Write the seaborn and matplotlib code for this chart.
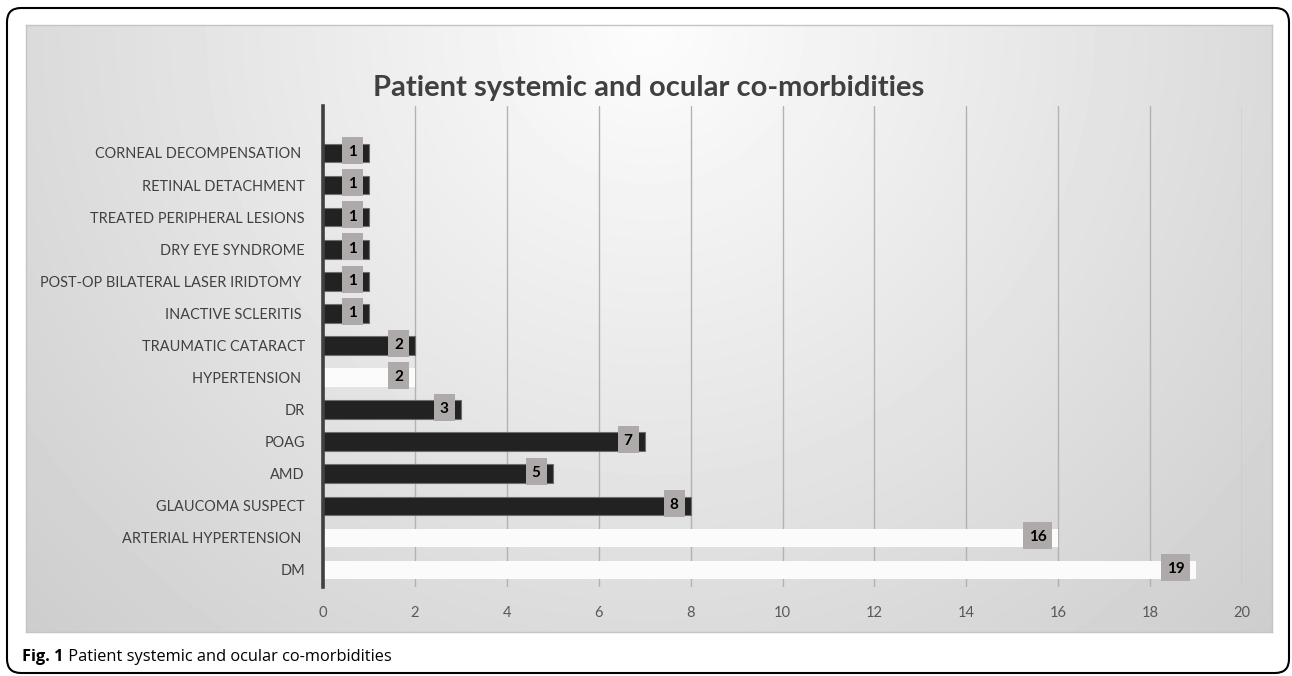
import numpy as np
import pandas as pd
import matplotlib
matplotlib.use("Agg")
import matplotlib.pyplot as plt
import seaborn as sns
from matplotlib.patches import FancyBboxPatch, Rectangle

# ---- data (top to bottom as displayed) ----
categories = [
    "CORNEAL DECOMPENSATION ",
    "RETINAL DETACHMENT",
    "TREATED PERIPHERAL LESIONS",
    "DRY EYE SYNDROME",
    "POST-OP BILATERAL LASER IRIDTOMY ",
    "INACTIVE SCLERITIS ",
    "TRAUMATIC CATARACT",
    "HYPERTENSION ",
    "DR",
    "POAG",
    "AMD",
    "GLAUCOMA SUSPECT",
    "ARTERIAL HYPERTENSION ",
    "DM",
]
values = [1, 1, 1, 1, 1, 1, 2, 2, 3, 7, 5, 8, 16, 19]
group = ["ocular"] * 7 + ["systemic"] + ["ocular"] * 4 + ["systemic"] * 2
x_ticks = [0, 2, 4, 6, 8, 10, 12, 14, 16, 18, 20]
title = "Patient systemic and ocular co-morbidities"
caption_bold = "Fig. 1"
caption_text = " Patient systemic and ocular co-morbidities"

df = pd.DataFrame({"category": categories, "value": values, "group": group})

sns.set_style("white")
FONT = ["Lato", "DejaVu Sans"]
plt.rcParams["font.family"] = FONT

W, H = 1292, 676
fig = plt.figure(figsize=(W / 100, H / 100), dpi=100, facecolor="white")

# ---- gradient background panel ----
bx0, by0, bx1, by1 = 26, 25, 1272, 632  # image px
bg = fig.add_axes([bx0 / W, (H - by1) / H, (bx1 - bx0) / W, (by1 - by0) / H])
gx = np.arange(bx0, bx1)
gy = np.arange(by0, by1)
GX, GY = np.meshgrid(gx, gy)
dist = np.sqrt((GX - 650) ** 2 + (GY - 30) ** 2)
val = np.clip(0.99 - 0.000215 * dist, 0, 1)
bg.imshow(val, cmap="gray", vmin=0, vmax=1, aspect="auto", interpolation="bilinear")
bg.set_xticks([])
bg.set_yticks([])
for s in bg.spines.values():
    s.set_color("#c4c4c4")
    s.set_linewidth(1.0)
bg.set_zorder(0)

# ---- main axes ----
ax_l, ax_r, ax_t, ax_b = 323, 1242, 106, 587
ax = fig.add_axes([ax_l / W, (H - ax_b) / H, (ax_r - ax_l) / W, (ax_b - ax_t) / H])
ax.set_zorder(1)
ax.patch.set_alpha(0)

palette = {"ocular": "#222222", "systemic": "#fbfbfb"}
sns.barplot(data=df, y="category", x="value", hue="group", palette=palette,
            dodge=False, legend=False, width=0.58, ax=ax, zorder=3,
            order=categories, orient="h")
for bar in ax.patches:
    fc = bar.get_facecolor()
    if fc[0] < 0.5:
        bar.set_edgecolor("#6e6e6e")
        bar.set_linewidth(0.8)
    else:
        bar.set_edgecolor("none")

ax.set_xlim(0, 20)
ax.set_ylim(13.53, -1.465)
ax.set_xticks(x_ticks)
ax.set_xticklabels([str(t) for t in x_ticks])
ax.set_xlabel("")
ax.set_ylabel("")
ax.grid(axis="x", color="#b2b2b2", linewidth=1.0, zorder=1)
ax.set_axisbelow(True)
for s in ["top", "right", "bottom"]:
    ax.spines[s].set_visible(False)
ax.spines["left"].set_color("#404040")
ax.spines["left"].set_linewidth(2.6)
ax.spines["left"].set_zorder(4)
ax.tick_params(axis="both", length=0)
ax.tick_params(axis="y", pad=13, labelsize=10.45, labelcolor="#404040")
ax.tick_params(axis="x", pad=14, labelsize=10.6, labelcolor="#595959")

# ---- value labels (grey boxes near bar end) ----
px_per_unit = (ax_r - ax_l) / 20.0
px_per_cat = (ax_b - ax_t) / (13.53 + 1.465)
box_h = 27 / px_per_cat
for i, v in enumerate(values):
    wpx = 21 if v < 10 else 29
    w = wpx / px_per_unit
    x0 = v - 6 / px_per_unit - w
    yc = i - 0.07
    ax.add_patch(Rectangle((x0, yc - box_h / 2), w, box_h, facecolor="#aeaaa9",
                           edgecolor="none", zorder=5))
    ax.text(x0 + w / 2, yc + 0.05, str(v), ha="center", va="center", fontsize=11,
            fontweight="bold", color="black", zorder=6)

# ---- title ----
fig.text(649 / W, 1 - 88 / H, title, ha="center", va="center",
         fontsize=21, fontweight="bold", color="#404040", family=FONT)

# ---- caption ----
CAP = ["Open Sans", "DejaVu Sans"]
t1 = fig.text(22 / W, 1 - 657 / H, caption_bold, ha="left", va="center",
              fontsize=11.8, fontweight="bold", color="black", family=CAP)
fig.canvas.draw()
bb = t1.get_window_extent()
fig.text(bb.x1 / W, 1 - 657 / H, caption_text, ha="left", va="center",
         fontsize=11.8, color="black", family=CAP)

# ---- outer rounded frame ----
frame = FancyBboxPatch((7, 3), 1282, 665, boxstyle="round,pad=0,rounding_size=14",
                       transform=None, facecolor="none", edgecolor="black",
                       linewidth=1.5, zorder=10)
fig.patches.append(frame)

fig.savefig("out.png", dpi=100, facecolor="white")
